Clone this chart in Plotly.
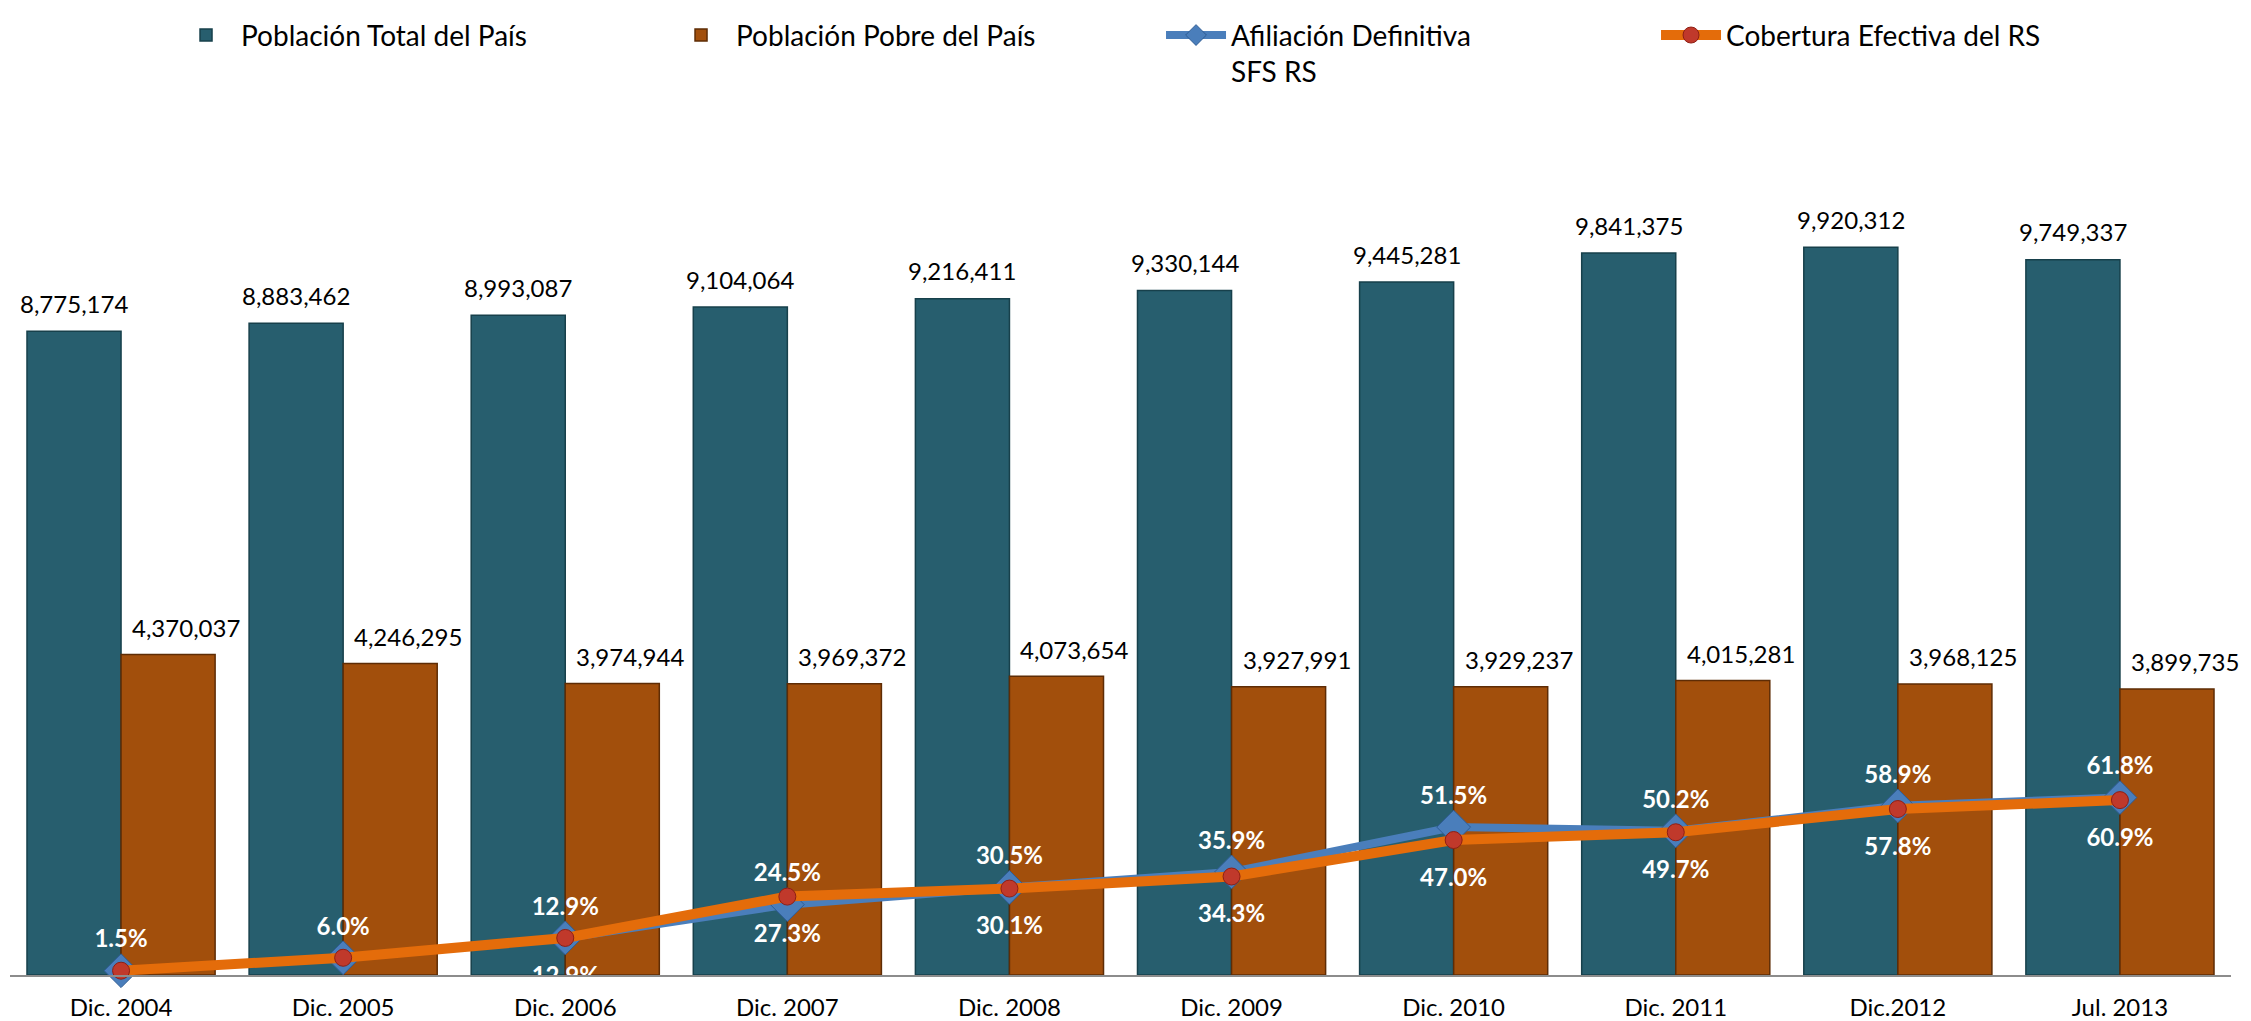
import plotly.graph_objects as go

categories = ["Dic. 2004", "Dic. 2005", "Dic. 2006", "Dic. 2007", "Dic. 2008",
              "Dic. 2009", "Dic. 2010", "Dic. 2011", "Dic.2012", "Jul. 2013"]
poblacion_total = [8775174, 8883462, 8993087, 9104064, 9216411,
                   9330144, 9445281, 9841375, 9920312, 9749337]
poblacion_pobre = [4370037, 4246295, 3974944, 3969372, 4073654,
                   3927991, 3929237, 4015281, 3968125, 3899735]
afiliacion_definitiva = [1.5, 6.0, 12.9, 24.5, 30.5, 35.9, 51.5, 50.2, 58.9, 61.8]
cobertura_efectiva = [1.5, 6.0, 12.9, 27.3, 30.1, 34.3, 47.0, 49.7, 57.8, 60.9]

FONT = "Lato"
TEAL = "#275E6E"
BROWN = "#A24F0C"
BLUE = "#4A7EBB"
ORANGE = "#E46C0A"
BALL = "#C0392B"

fig = go.Figure()

fig.add_trace(go.Bar(
    x=categories, y=poblacion_total, name="Población Total del País",
    marker=dict(color=TEAL, line=dict(color="#17404B", width=1.5)),
))
fig.add_trace(go.Bar(
    x=categories, y=poblacion_pobre, name="Población Pobre del País",
    marker=dict(color=BROWN, line=dict(color="#5E2C05", width=1.5)),
))

fig.add_trace(go.Scatter(
    x=categories, y=afiliacion_definitiva, name="Afiliación Definitiva<br>SFS RS",
    yaxis="y2", mode="lines+markers", cliponaxis=False,
    line=dict(color=BLUE, width=8),
    marker=dict(symbol="diamond", size=26, color=BLUE, line=dict(color="#2E5C94", width=1)),
))
fig.add_trace(go.Scatter(
    x=categories, y=cobertura_efectiva, name="Cobertura Efectiva del RS",
    yaxis="y2", mode="lines+markers", cliponaxis=False,
    line=dict(color=ORANGE, width=10),
    marker=dict(symbol="circle", size=17, color=BALL, line=dict(color="#8E1E14", width=1)),
))

# value labels for the lines (text offset from the points through invisible marker size)
fig.add_trace(go.Scatter(
    x=categories, y=afiliacion_definitiva, yaxis="y2", mode="markers+text",
    showlegend=False, hoverinfo="skip", cliponaxis=True,
    marker=dict(size=26, color="rgba(0,0,0,0)"),
    texttemplate="%{y:.1f}%", textposition="top center",
    textfont=dict(family=FONT, size=24, color="#FFFFFF", weight="bold"),
))
fig.add_trace(go.Scatter(
    x=categories, y=cobertura_efectiva, yaxis="y2", mode="markers+text",
    showlegend=False, hoverinfo="skip", cliponaxis=True,
    marker=dict(size=43, color="rgba(0,0,0,0)"),
    texttemplate="%{y:.1f}%", textposition="bottom center",
    textfont=dict(family=FONT, size=24, color="#FFFFFF", weight="bold"),
))

# bar value labels (teal centred on its bar, brown nudged right like the original)
annotations = []
for cat, vt, vp in zip(categories, poblacion_total, poblacion_pobre):
    annotations.append(dict(x=cat, y=vt, xref="x", yref="y", text=f"{vt:,}",
                            showarrow=False, xshift=-47, yshift=28, yanchor="middle",
                            font=dict(family=FONT, size=24, color="#000000")))
    annotations.append(dict(x=cat, y=vp, xref="x", yref="y", text=f"{vp:,}",
                            showarrow=False, xshift=65, yshift=27, yanchor="middle",
                            font=dict(family=FONT, size=24, color="#000000")))

fig.update_layout(
    width=2251, height=1021,
    margin=dict(l=10, r=20, t=98, b=46),
    paper_bgcolor="white", plot_bgcolor="white",
    barmode="group", bargap=0.153, bargroupgap=0.0,
    font=dict(family=FONT, size=24, color="#000000"),
    xaxis=dict(showline=True, linecolor="#8C8C8C", linewidth=2, ticks="",
               showgrid=False, ticklabelstandoff=10, automargin=False,
               range=[-0.5, len(categories) - 0.5],
               tickfont=dict(family=FONT, size=24, color="#000000")),
    yaxis=dict(range=[0, 11900000], visible=False, showgrid=False, automargin=False),
    yaxis2=dict(range=[0, 304], overlaying="y", side="right", visible=False,
                showgrid=False, automargin=False),
    legend=dict(orientation="h", x=0.0725, xanchor="left", y=1.105, yanchor="top",
                font=dict(family=FONT, size=28, color="#000000"),
                entrywidth=420, entrywidthmode="pixels", itemwidth=60,
                valign="top", bgcolor="rgba(0,0,0,0)"),
    annotations=annotations,
    showlegend=True,
)

fig.write_html("out.html", config={"displayModeBar": False},
               post_script="document.body.style.margin='0';")
